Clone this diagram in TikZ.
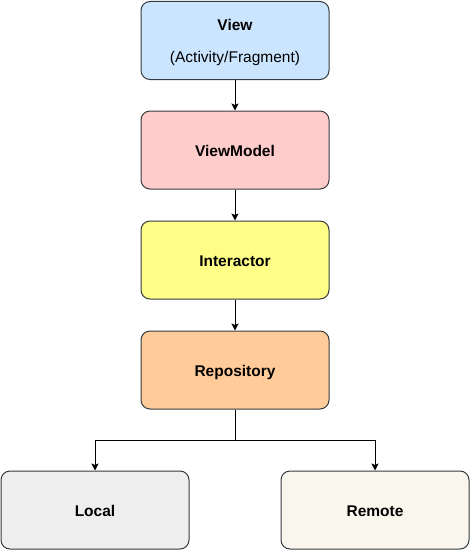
\documentclass[tikz,border=0pt]{standalone}
\usepackage{fontspec}
\setmainfont{Liberation Sans}
\usetikzlibrary{arrows.meta}
\definecolor{cview}{HTML}{CCE5FF}
\definecolor{cvm}{HTML}{FFCCCC}
\definecolor{cint}{HTML}{FFFF88}
\definecolor{crepo}{HTML}{FFCC99}
\definecolor{clocal}{HTML}{EEEEEE}
\definecolor{cremote}{HTML}{F9F7ED}
\definecolor{cborder}{HTML}{36393D}
\begin{document}
\begin{tikzpicture}[x=1pt,y=-1pt,
  box/.style={draw=cborder, line width=1pt, rounded corners=9pt,
    minimum width=188pt, minimum height=78pt, inner sep=0pt,
    text height=16.4pt, text depth=2.6pt,
    align=center, font=\fontsize{15.5}{18}\selectfont, text=black},
  conn/.style={line width=1pt, -{Stealth[length=7pt,width=7pt,inset=1.5pt]}}]
\useasboundingbox (0,0) rectangle (471,551);
\node[box, fill=cview, text height=48pt, text depth=3pt] (view) at (235,40.5) {\textbf{View}\\[14pt](Activity/Fragment)};
\node[box, fill=cvm] (vm) at (235,150) {\textbf{ViewModel}};
\node[box, fill=cint] (int) at (235,260) {\textbf{Interactor}};
\node[box, fill=crepo] (repo) at (235,370) {\textbf{Repository}};
\node[box, fill=clocal] (local) at (95,510) {\textbf{Local}};
\node[box, fill=cremote] (remote) at (375,510) {\textbf{Remote}};
\draw[conn] (view) -- (vm);
\draw[conn] (vm) -- (int);
\draw[conn] (int) -- (repo);
\coordinate (split) at (235,440);
\draw[conn] (repo.south) -- (split) -| (local.north);
\draw[conn] (split) -| (remote.north);
\end{tikzpicture}
\end{document}
